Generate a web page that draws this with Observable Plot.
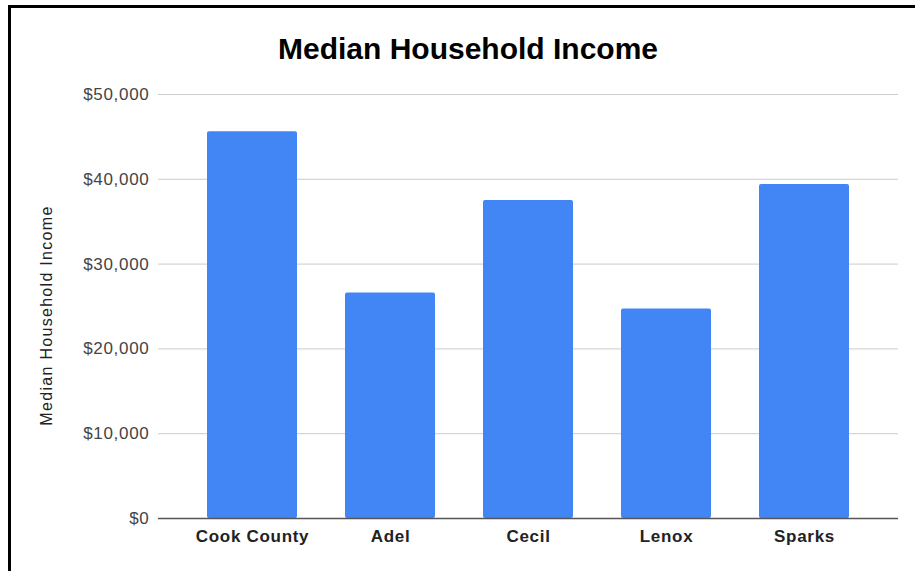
<!DOCTYPE html>
<html>
<head>
<meta charset="utf-8">
<script src="https://cdn.jsdelivr.net/npm/d3@7"></script>
<script src="https://cdn.jsdelivr.net/npm/@observablehq/plot@0.6"></script>
<style>
  html, body { margin: 0; padding: 0; background: #fff; width: 915px; height: 571px; overflow: hidden; }
  #frame { position: absolute; left: 8px; top: 5px; width: 1000px; height: 700px; border-left: 3px solid #000; border-top: 3px solid #000; box-sizing: border-box; }
  #title { position: absolute; left: 0; width: 936px; top: 34px; text-align: center; font: bold 30px "Liberation Sans", Arial, sans-serif; line-height: 30px; color: #000; }
  #chart { position: absolute; left: 0; top: 0; }
  g[aria-label="y-axis tick label"] text { letter-spacing: 0.7px; }
  g[aria-label="x-axis tick label"] text { letter-spacing: 0.7px; }
  g[aria-label="text"] text { letter-spacing: 1.3px; }
</style>
</head>
<body>
<div id="frame"></div>
<div id="title">Median Household Income</div>
<div id="chart"></div>
<script>
const categories = ["Cook County", "Adel", "Cecil", "Lenox", "Sparks"];
const values = [45600, 26600, 37500, 24700, 39400];
const yTicks = [0, 10000, 20000, 30000, 40000, 50000];

const data = categories.map((c, i) => ({category: c, value: values[i]}));
const fmt = d3.format("$,");

const chart = Plot.plot({
  width: 915,
  height: 571,
  marginLeft: 158,
  marginRight: 17,
  marginTop: 94,
  marginBottom: 53,
  style: { fontFamily: "'Liberation Sans', Arial, sans-serif", background: "transparent" },
  x: { domain: categories, padding: 0.35, label: null },
  y: { domain: [0, 50000], label: null },
  marks: [
    Plot.gridY(yTicks, { stroke: "#ccc", strokeOpacity: 1, strokeWidth: 1 }),
    Plot.barY(data, { x: "category", y: "value", fill: "#4285f4", rx: 2 }),
    Plot.ruleY([0], { stroke: "#555", strokeWidth: 1.5 }),
    Plot.axisY(yTicks, { tickSize: 0, tickPadding: 9, tickFormat: fmt, fontSize: 17, fill: "#444", label: null }),
    Plot.axisX({ tickSize: 0, tickPadding: 11, fontSize: 17, fontWeight: "bold", fill: "#222", label: null }),
    Plot.text(["Median Household Income"], { frameAnchor: "left", textAnchor: "middle", dx: -112, dy: 9, rotate: -90, fontSize: 16, fill: "#222" })
  ]
});
document.getElementById("chart").appendChild(chart);
</script>
</body>
</html>
